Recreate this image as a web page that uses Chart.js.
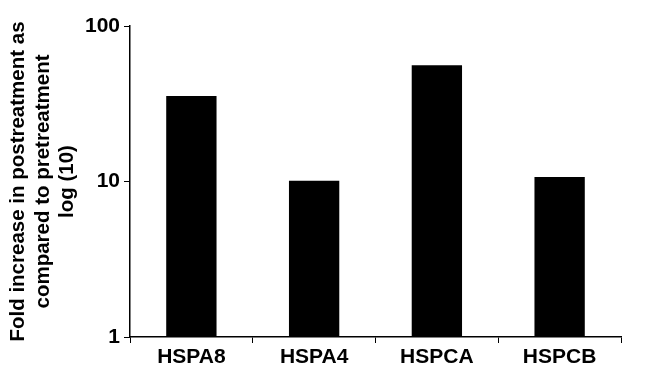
<!DOCTYPE html>
<html>
<head>
<meta charset="utf-8">
<script src="https://cdn.jsdelivr.net/npm/chart.js@4/dist/chart.umd.min.js"></script>
<style>
  html, body { margin: 0; padding: 0; background: #fff; }
  #wrap { width: 649px; height: 371px; }
</style>
</head>
<body>
<div id="wrap"><canvas id="graph"></canvas></div>
<script>
// data
const genes = ['HSPA8', 'HSPA4', 'HSPCA', 'HSPCB'];
const foldIncrease = [35.5, 10.1, 56, 10.7];
const yTicks = [1, 10, 100];
const yTitle = ['Fold increase in postreatment as', 'compared to pretreatment', 'log (10)'];

const font = "'Liberation Sans', Arial, sans-serif";

new Chart(document.getElementById('graph').getContext('2d'), {
  type: 'bar',
  data: {
    labels: genes,
    datasets: [{
      data: foldIncrease,
      backgroundColor: '#000',
      borderWidth: 0,
      barPercentage: 0.41,
      categoryPercentage: 1
    }]
  },
  options: {
    responsive: true,
    maintainAspectRatio: false,
    animation: false,
    layout: { padding: { top: 26, right: 28, left: 0, bottom: 0 } },
    plugins: {
      legend: { display: false },
      tooltip: { enabled: false }
    },
    scales: {
      x: {
        grid: { drawOnChartArea: false, color: '#000', tickLength: 6, offset: true },
        border: { display: true, color: '#000', width: 1.5 },
        ticks: { color: '#000', padding: 2, font: { family: font, size: 21, weight: 'bold' } },
        afterFit: s => { s.height = 34; }
      },
      y: {
        type: 'logarithmic',
        min: 1,
        max: 100,
        grid: { drawOnChartArea: false, color: '#000', tickLength: 6 },
        border: { display: true, color: '#000', width: 1.5 },
        ticks: {
          color: '#000',
          padding: 4,
          font: { family: font, size: 21, weight: 'bold' },
          callback: v => String(v)
        },
        afterBuildTicks: s => { s.ticks = yTicks.map(v => ({ value: v })); },
        title: {
          display: true,
          text: yTitle,
          color: '#000',
          font: { family: font, size: 20.5, weight: 'bold', lineHeight: 1.2 },
          padding: { top: 6, bottom: 0 }
        },
        afterFit: s => { s.width = 130; }
      }
    }
  }
});
</script>
</body>
</html>
